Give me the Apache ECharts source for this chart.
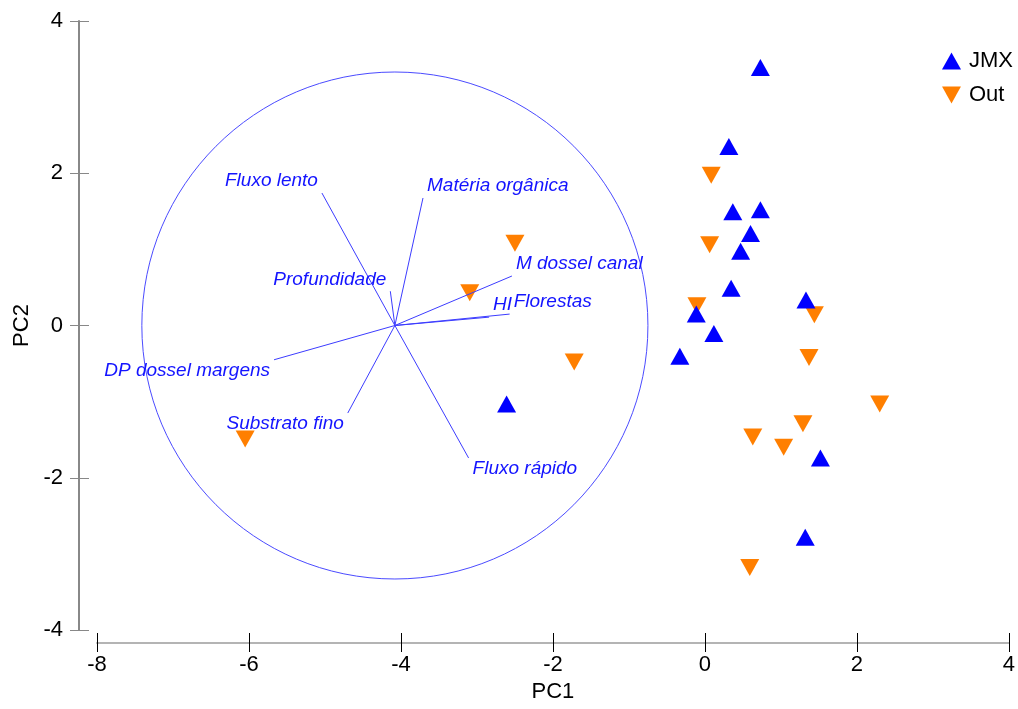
<!DOCTYPE html>
<html>
<head>
<meta charset="utf-8">
<script src="https://cdn.jsdelivr.net/npm/echarts@6/dist/echarts.min.js"></script>
<style>html,body{margin:0;padding:0;background:#fff}#c{width:1018px;height:709px}</style>
</head>
<body>
<div id="c"></div>
<script>
// Axis ticks
var xTicks = [-8, -6, -4, -2, 0, 2, 4];
var yTicks = [-4, -2, 0, 2, 4];

// Sample scores (PC1, PC2)
var jmxPC1 = [0.73, 0.315, 0.367, 0.73, 0.60, 0.47, 0.345, 1.33, -0.114, 0.118, -0.33, 1.52, 1.32, -2.61];
var jmxPC2 = [3.39, 2.35, 1.495, 1.52, 1.21, 0.975, 0.49, 0.335, 0.15, -0.105, -0.405, -1.74, -2.78, -1.03];
var outPC1 = [0.083, 0.062, -0.105, 1.44, 1.37, 2.30, 1.29, 0.63, 1.036, 0.59, -2.50, -3.095, -1.72, -6.05];
var outPC2 = [1.975, 1.06, 0.26, 0.14, -0.42, -1.03, -1.29, -1.465, -1.60, -3.18, 1.08, 0.43, -0.48, -1.49];

// Variable vectors (endpoints)
var varNames = ["Fluxo lento", "Matéria orgânica", "Profundidade", "M dossel canal", "HI", "Florestas", "DP dossel margens", "Substrato fino", "Fluxo rápido"];
var varPC1 = [-5.04, -3.71, -4.14, -2.54, -2.84, -2.57, -5.67, -4.70, -3.11];
var varPC2 = [1.74, 1.675, 0.45, 0.65, 0.11, 0.15, -0.45, -1.15, -1.74];

// Correlation circle
var circleCenter = [-4.08, 0];
var circleRadius = 3.33;

function zip(a, b) { return a.map(function (v, i) { return [v, b[i]]; }); }

var chart = echarts.init(document.getElementById('c'), null, { renderer: 'canvas' });
var FONT = 'Liberation Sans, Arial, sans-serif';
var xmin = xTicks[0], xmax = xTicks[xTicks.length - 1];
var ymin = yTicks[0], ymax = yTicks[yTicks.length - 1];
var xint = xTicks[1] - xTicks[0], yint = yTicks[1] - yTicks[0];

var option = {
  animation: false,
  backgroundColor: '#fff',
  grid: { left: 97, right: 6, top: 21, bottom: 79 },
  legend: {
    orient: 'vertical', left: 937, top: 45, itemWidth: 19, itemHeight: 17, itemGap: 12,
    textStyle: { fontFamily: FONT, fontSize: 22, color: '#000', padding: [0, 0, 0, 3] },
    data: ['JMX', 'Out']
  },
  xAxis: [{
    type: 'value', min: xmin, max: xmax, interval: xint, position: 'bottom', offset: 13,
    name: 'PC1', nameLocation: 'middle', nameGap: 35,
    nameTextStyle: { fontFamily: FONT, fontSize: 22, color: '#000' },
    axisLine: { show: true, onZero: false, lineStyle: { color: '#b4b4b4', width: 2 } },
    axisTick: { show: true, inside: false, length: 9, lineStyle: { color: '#000', width: 1 } },
    axisLabel: { fontFamily: FONT, fontSize: 22, color: '#000', margin: 11 },
    splitLine: { show: false }
  }, {
    type: 'value', min: xmin, max: xmax, interval: xint, position: 'bottom', offset: 13,
    axisLine: { show: false, onZero: false },
    axisTick: { show: true, inside: true, length: 10, lineStyle: { color: '#000', width: 1 } },
    axisLabel: { show: false }, splitLine: { show: false }
  }],
  yAxis: [{
    type: 'value', min: ymin, max: ymax, interval: yint, position: 'left', offset: 18,
    name: 'PC2', nameLocation: 'middle', nameGap: 45, nameRotate: 90,
    nameTextStyle: { fontFamily: FONT, fontSize: 22, color: '#000' },
    axisLine: { show: true, onZero: false, lineStyle: { color: '#888', width: 2 } },
    axisTick: { show: true, inside: false, length: 9, lineStyle: { color: '#888', width: 1 } },
    axisLabel: { fontFamily: FONT, fontSize: 22, color: '#000', margin: 16 },
    splitLine: { show: false }
  }, {
    type: 'value', min: ymin, max: ymax, interval: yint, position: 'left', offset: 18,
    axisLine: { show: false, onZero: false },
    axisTick: { show: true, inside: true, length: 10, lineStyle: { color: '#888', width: 1 } },
    axisLabel: { show: false }, splitLine: { show: false }
  }],
  series: [{
    name: 'circle', type: 'custom', xAxisIndex: 0, yAxisIndex: 0, silent: true, z: 1,
    data: [[circleCenter[0], circleCenter[1], circleRadius]],
    renderItem: function (params, api) {
      var c = api.coord([api.value(0), api.value(1)]);
      var r = api.size([api.value(2), api.value(2)]);
      return {
        type: 'ellipse',
        shape: { cx: c[0], cy: c[1], rx: r[0], ry: r[1] },
        style: { fill: null, stroke: '#4b4bff', lineWidth: 1 }
      };
    }
  }, {
    name: 'Out', type: 'scatter', xAxisIndex: 0, yAxisIndex: 0, z: 2,
    symbol: 'path://M0,0L20,0L10,18Z', symbolSize: [19, 17],
    itemStyle: { color: '#ff7f00', opacity: 1 },
    data: zip(outPC1, outPC2)
  }, {
    name: 'JMX', type: 'scatter', xAxisIndex: 0, yAxisIndex: 0, z: 3,
    symbol: 'triangle', symbolSize: [19, 17],
    itemStyle: { color: '#0000ff', opacity: 1 },
    data: zip(jmxPC1, jmxPC2)
  }, {
    name: 'vectors', type: 'custom', xAxisIndex: 0, yAxisIndex: 0, silent: true, z: 5,
    data: varNames.map(function (n, i) { return [varPC1[i], varPC2[i], n]; }),
    renderItem: function (params, api) {
      var o = api.coord(circleCenter);
      var x = api.value(0), y = api.value(1);
      var p = api.coord([x, y]);
      var left = x >= circleCenter[0];
      var up = y >= 0;
      return {
        type: 'group',
        children: [{
          type: 'line',
          shape: { x1: o[0], y1: o[1], x2: p[0], y2: p[1] },
          style: { stroke: '#3c3cff', lineWidth: 1 }
        }, {
          type: 'text',
          style: {
            x: p[0] + (left ? 4 : -4), y: p[1] + (up ? -12 : 11),
            text: varNames[params.dataIndex],
            align: left ? 'left' : 'right', verticalAlign: 'middle',
            font: 'italic 19px ' + FONT, fill: '#1414ff'
          }
        }]
      };
    }
  }]
};
chart.setOption(option);
</script>
</body>
</html>
